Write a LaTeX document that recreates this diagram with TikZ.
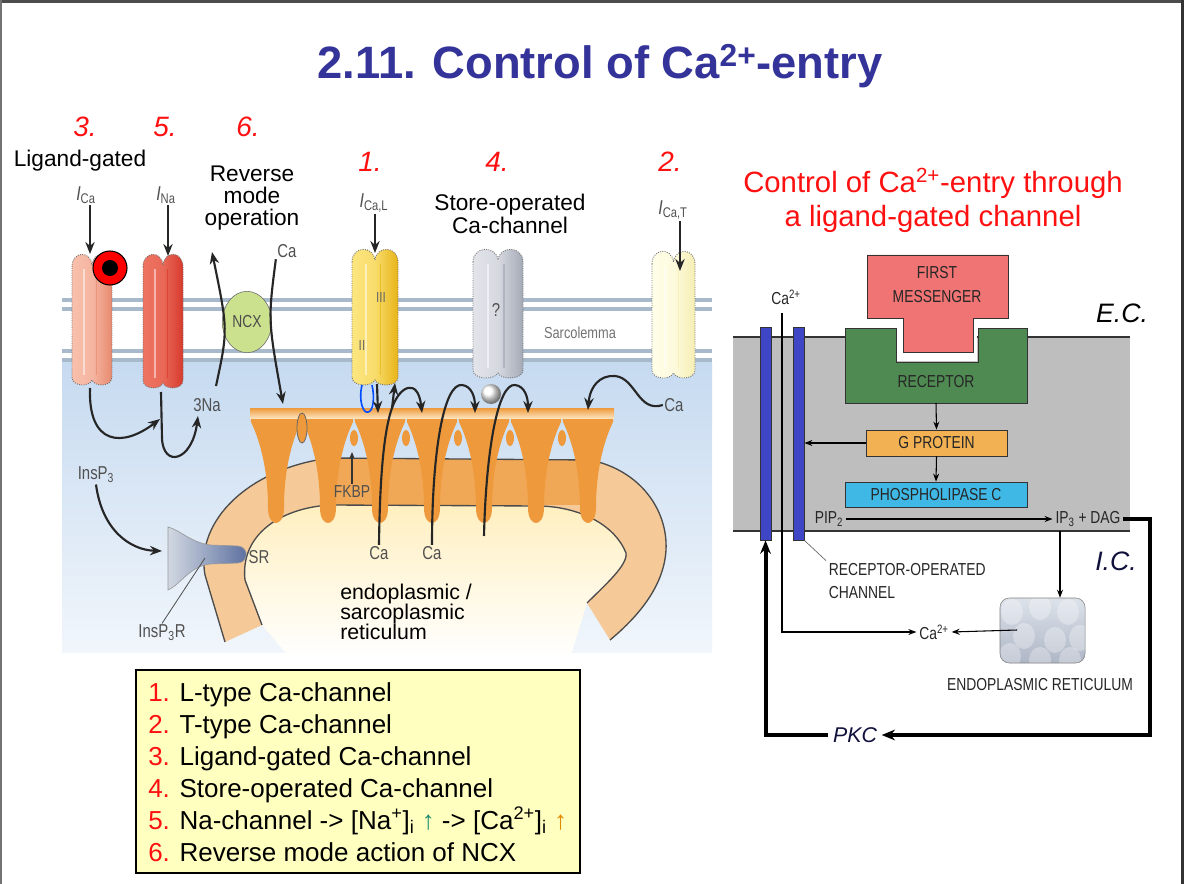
\documentclass[tikz,border=0pt]{standalone}
\usepackage{fontspec}
\setmainfont{Liberation Sans}
\newfontfamily\narrow[FakeStretch=0.8]{Liberation Sans}
\usetikzlibrary{arrows.meta,shapes.geometric}
\definecolor{titleblue}{HTML}{333399}
\definecolor{myred}{HTML}{FF1010}
\definecolor{memline}{HTML}{A9B9CC}
\definecolor{cytoblue}{HTML}{C6DAF0}
\definecolor{srtan}{HTML}{F5CA98}
\definecolor{srin}{HTML}{FFEFC0}
\definecolor{ryr}{HTML}{EE9A3C}
\definecolor{ryrlight}{HTML}{FCE2BA}
\definecolor{ryrmid}{HTML}{F0A856}
\definecolor{ncxgreen}{HTML}{CBE18E}
\definecolor{chanthreeL}{HTML}{F8C0AC}
\definecolor{chanthreeD}{HTML}{E88A70}
\definecolor{chanfiveL}{HTML}{EE7462}
\definecolor{chanfiveD}{HTML}{D63A2C}
\definecolor{chanoneL}{HTML}{FCE680}
\definecolor{chanoneD}{HTML}{E8B418}
\definecolor{chanfourL}{HTML}{E2E4EA}
\definecolor{chanfourD}{HTML}{A4AAB6}
\definecolor{chantwoL}{HTML}{FFFEE8}
\definecolor{chantwoD}{HTML}{F6EEB4}
\definecolor{legendbg}{HTML}{FFFFC0}
\definecolor{fmred}{HTML}{F07474}
\definecolor{recgreen}{HTML}{4F8A52}
\definecolor{gprot}{HTML}{F2B254}
\definecolor{plc}{HTML}{40B8E6}
\definecolor{rgray}{HTML}{BEBEBE}
\definecolor{chanblue}{HTML}{3E46C6}
\definecolor{labgray}{HTML}{505050}
\definecolor{insL}{HTML}{D2D8E2}
\definecolor{insR}{HTML}{5A6E9E}
\definecolor{erblue}{HTML}{AEB6C6}
\definecolor{erlight}{HTML}{DDE2EA}
\definecolor{pkcblue}{HTML}{10103C}
\definecolor{upgreen}{HTML}{1E8C6E}
\definecolor{uporange}{HTML}{E08A00}
\tikzset{
  smalllab/.style={font=\narrow\fontsize{14}{15}\selectfont, text=labgray, inner sep=1pt},
  ilab/.style={font=\narrow\fontsize{15}{16}\selectfont, text=labgray, inner sep=1pt},
  rlab/.style={font=\narrow\fontsize{13}{14}\selectfont, text=black!85, inner sep=2pt},
  rednum/.style={font=\fontsize{21}{24}\selectfont\itshape, text=myred},
  biglab/.style={font=\fontsize{17}{16.8}\selectfont, align=center, inner sep=1pt},
  blackarr/.style={draw=black!85, line width=1.6pt, -{Stealth[length=9pt,width=7pt]}},
  tarr/.style={draw=black, line width=0.8pt, -{Stealth[length=6pt,width=4.5pt]}},
  thk/.style={draw=black, line width=3pt},
  srline/.style={draw=black!70, line width=1pt},
}
\newcommand\drawchan[6]{%
\begin{scope}[shift={(#1,#2)}]
\shade[left color=#5, right color=#6, middle color=#5!80!#6, draw=black!55, densely dotted, line width=0.7pt]
 (0,14) .. controls (0,-2) and ({0.46*#3},-3) .. ({0.5*#3},12)
 .. controls ({0.54*#3},-3) and (#3,-2) .. (#3,14)
 -- (#3,{#4-8}) .. controls (#3,{#4+2}) and ({0.56*#3},{#4+2}) .. ({0.5*#3},{#4-5})
 .. controls ({0.44*#3},{#4+2}) and (0,{#4+2}) .. (0,{#4-8}) -- cycle;
\draw[#5!40!white, line width=1.5pt, opacity=0.8] ({0.3*#3},16) -- ({0.3*#3},{#4-10});
\draw[#6, line width=1pt, opacity=0.7] ({0.62*#3},16) -- ({0.62*#3},{#4-10});
\end{scope}}
\begin{document}
\begin{tikzpicture}[x=0.75pt,y=-0.75pt]
\useasboundingbox (0,0) rectangle (1184,884);
\fill[white] (0,0) rectangle (1184,884);
% slide frame
\draw[black!70, line width=2.2pt] (0,1.5) -- (1184,1.5);
\draw[black!55, line width=1.5pt] (1,0) -- (1,884);
\draw[black!80, line width=2.2pt] (1182.5,0) -- (1182.5,884);

% title
\node[font=\fontsize{34}{40}\selectfont\bfseries, text=titleblue] (title) at (600,66) {2.11. Control of Ca\textsuperscript{2+}-entry};

% ================= LEFT DIAGRAM =================
\shade[top color=cytoblue, bottom color=cytoblue!25!white] (62,362) rectangle (712,652);
\foreach \yy in {300,309,351,360} \draw[memline, line width=3pt] (62,\yy) -- (712,\yy);

% SR inner region
\shade[top color=srin, bottom color=white]
 (587,603) .. controls (605,585) and (628,565) .. (626,553) .. controls (615,525) and (580,507) .. (540,506)
 -- (330,505) .. controls (280,508) and (240,535) .. (245,580) -- (262,625) -- (290,658) -- (570,658) -- cycle;
% SR band
\fill[srtan]
 (225,642) -- (205,575) .. controls (195,520) and (250,468) .. (330,458) -- (590,460)
 .. controls (640,470) and (668,510) .. (666,550) .. controls (664,585) and (640,615) .. (610,640)
 -- (587,603) .. controls (605,585) and (628,565) .. (626,553) .. controls (615,525) and (580,507) .. (540,506)
 -- (330,505) .. controls (280,508) and (240,535) .. (245,580) -- (262,625) -- cycle;
\fill[ryrmid] (330,459) rectangle (592,505);
\draw[srline] (225,642) -- (205,575) .. controls (195,520) and (250,468) .. (330,458) -- (590,460)
 .. controls (640,470) and (668,510) .. (666,550) .. controls (664,585) and (640,615) .. (610,640);
\draw[srline] (587,603) .. controls (605,585) and (628,565) .. (626,553) .. controls (615,525) and (580,507) .. (540,506)
 -- (330,505) .. controls (280,508) and (240,535) .. (245,580) -- (262,625);

% RyR teeth
\foreach \cx in {276,328,380,432,484,536,588} {
\shade[left color=ryr, middle color=ryrlight, right color=ryr]
 ({\cx-26},410) -- ({\cx+26},410) -- ({\cx+25},422) .. controls ({\cx+14},445) and ({\cx+8},475) .. ({\cx+8},508)
 .. controls ({\cx+8},528) and ({\cx-8},528) .. ({\cx-8},508) .. controls ({\cx-8},475) and ({\cx-14},445) .. ({\cx-25},422) -- cycle;
}
\shade[top color=ryr, bottom color=ryrlight] (250,408) rectangle (614,418);
\foreach \kx in {354,406,458,510,562} \fill[ryr] (\kx,438) ellipse (4 and 8);
\filldraw[fill=ryr, draw=black!60, line width=0.6pt] (302,428) ellipse (5 and 15);

% FKBP
\node[smalllab, font=\narrow\fontsize{13}{14}\selectfont] (fkbp) at (352,492) {FKBP};
\coordinate (fkbptop) at (352,452);
\draw[draw=black!80, line width=1pt, -{Stealth[length=5pt,width=4pt]}] (fkbp.north) -- (fkbptop);

% channels
\drawchan{72}{253}{40}{132}{chanthreeL}{chanthreeD}
\drawchan{143}{253}{40}{135}{chanfiveL}{chanfiveD}
\drawchan{352}{248}{46}{137}{chanoneL}{chanoneD}
\drawchan{473}{248}{50}{130}{chanfourL}{chanfourD}
\drawchan{652}{250}{43}{128}{chantwoL}{chantwoD}

% ligand
\filldraw[fill=red, draw=black, line width=0.8pt] (110,268) circle (17);
\fill[black] (110,268) circle (8);

% L-type details
\node[smalllab, text=black!60, font=\narrow\fontsize{11}{12}\selectfont] (romIII) at (381,297) {III};
\node[smalllab, text=black!60, font=\narrow\fontsize{11}{12}\selectfont] (romII) at (362,345) {II};
\draw[blue!70!cyan, line width=1.2pt] (362,385) .. controls (358,402) and (364,414) .. (368,412) .. controls (373,412) and (375,398) .. (372,385);
\node[smalllab] (qm) at (496,310) {?};
\shade[ball color=white] (491,394) circle (10);
\node[smalllab, text=black!55, font=\narrow\fontsize{12}{13}\selectfont] (sarco) at (580,333) {Sarcolemma};

% NCX
\node[ellipse, draw=black!60, fill=ncxgreen, minimum width=37pt, minimum height=46pt, inner sep=0, font=\narrow\fontsize{13}{14}\selectfont, text=black!70] (ncx) at (247,322) {NCX};
\node[smalllab] (ncxca) at (287,251) {Ca};
\node[smalllab] (na3) at (207,405) {3Na};
\coordinate (ncxout) at (212,252);
\coordinate (ncxoutb) at (216,386);
\draw[blackarr] (ncxoutb) .. controls (228,330) .. (ncxout);
\coordinate (ncxin) at (283,404);
\draw[blackarr] (ncxca.south west) .. controls (268,320) .. (ncxin);

% labels above channels
\node[ilab] (ica) at (86,195) {{\itshape I}\textsubscript{Ca}};
\coordinate (c3top) at (90,254);
\draw[blackarr] (ica.south -| c3top) -- (c3top);
\node[ilab] (ina) at (166,195) {{\itshape I}\textsubscript{Na}};
\coordinate (c5top) at (168,256);
\draw[blackarr] (ina.south -| c5top) -- (c5top);
\node[ilab] (ical) at (374,203) {{\itshape I}\textsubscript{Ca,L}};
\coordinate (c1top) at (375,253);
\draw[blackarr] (ical.south -| c1top) -- (c1top);
\node[ilab] (icat) at (673,210) {{\itshape I}\textsubscript{Ca,T}};
\coordinate (c2top) at (680,271);
\draw[blackarr] (icat.south -| c2top) -- (c2top);

% arrows below Na / Ca ligand channels
\coordinate (c3bot) at (90,388);
\coordinate (c3end) at (160,419);
\draw[blackarr] (c3bot) .. controls (88,445) and (122,448) .. (c3end);
\coordinate (c5bot) at (161,392);
\coordinate (c5end) at (198,416);
\draw[blackarr] (c5bot) -- (162,438) .. controls (163,468) and (192,462) .. (c5end);

% T-type wavy arrow
\node[smalllab] (tca) at (674,405) {Ca};
\coordinate (tend) at (588,410);
\draw[blackarr] (tca.west) .. controls (638,413) and (636,378) .. (615,376) .. controls (600,375) and (590,386) .. (tend);

% L-type in
\coordinate (c1bot) at (377,384);
\coordinate (c1in) at (378,413);
\draw[blackarr] (c1bot) -- (c1in);

% Ca release curves
\node[smalllab] (caA) at (379,553) {Ca};
\node[smalllab] (caB) at (432,553) {Ca};
\coordinate (splitA) at (392,408);
\coordinate (upA) at (395,383);
\coordinate (endA) at (422,413);
\draw[draw=black!85, line width=1.6pt] (caA.north) .. controls (380,460) and (386,425) .. (splitA);
\draw[blackarr] (splitA) .. controls (400,385) and (418,378) .. (endA);
\draw[blackarr] (splitA) -- (upA);
\coordinate (endB) at (475,413);
\draw[blackarr] (caB.north) .. controls (432,450) and (444,383) .. (462,385) .. controls (472,386) and (475,398) .. (endB);
\coordinate (startC) at (484,536);
\coordinate (endC) at (528,413);
\draw[blackarr] (startC) .. controls (486,450) and (498,383) .. (515,385) .. controls (525,386) and (528,398) .. (endC);

% InsP3 receptor
\shade[left color=insL, right color=insR, draw=black!40, line width=0.5pt]
 (168,527) .. controls (180,530) and (190,542) .. (210,545) -- (238,546) .. controls (249,547) and (249,562) .. (238,563)
 -- (210,564) .. controls (190,566) and (180,585) .. (168,590) -- cycle;
\node[smalllab] (insp3) at (96,475) {InsP\textsubscript{3}};
\coordinate (insp3r) at (162,551);
\draw[blackarr] (insp3.south) .. controls (102,530) and (130,550) .. (insp3r);
\node[smalllab] (insp3rl) at (162,633) {InsP\textsubscript{3}R};
\coordinate (insin) at (205,558);
\draw[black!70, line width=0.6pt] (insp3rl.north) -- (insin);
\node[smalllab] (sr) at (259,557) {SR};

\node[font=\fontsize{16}{15}\selectfont, align=left, anchor=west, inner sep=0] (ersr) at (340,612) {endoplasmic /\\sarcoplasmic\\reticulum};

% top labels
\node[rednum] (n3) at (85,127) {3.};
\node[rednum] (n5) at (165,127) {5.};
\node[rednum] (n6) at (248,127) {6.};
\node[rednum] (n1) at (370,162) {1.};
\node[rednum] (n4) at (497,162) {4.};
\node[rednum] (n2) at (670,162) {2.};
\node[biglab] (lg) at (80,161) {Ligand-gated};
\node[biglab] (rmo) at (252,198) {Reverse\\mode\\operation};
\node[biglab] (soc) at (510,214) {Store-operated\\Ca-channel};

% legend
\filldraw[fill=legendbg, draw=black, line width=0.8pt] (136,670) rectangle (580,873);
\node[anchor=west, align=left, inner sep=0, font=\fontsize{19.5}{24}\selectfont] (legend) at (148,772)
{{\color{myred}1.} L-type Ca-channel\\
{\color{myred}2.} T-type Ca-channel\\
{\color{myred}3.} Ligand-gated Ca-channel\\
{\color{myred}4.} Store-operated Ca-channel\\
{\color{myred}5.} Na-channel -> [Na\textsuperscript{+}]\textsubscript{i} {\color{upgreen}↑} -> [Ca\textsuperscript{2+}]\textsubscript{i} {\color{uporange}↑}\\
{\color{myred}6.} Reverse mode action of NCX};

% ================= RIGHT DIAGRAM =================
\node[font=\fontsize{22}{25.5}\selectfont, text=myred, align=center] (rtitle) at (933,200) {Control of Ca\textsuperscript{2+}-entry through\\a ligand-gated channel};

\fill[rgray] (733,337) rectangle (1130,531);
\draw[black!80, line width=0.8pt] (733,337) -- (1130,337);
\draw[black!80, line width=0.8pt] (733,531) -- (1130,531);

\filldraw[fill=recgreen, draw=black!80, line width=0.6pt] (845,328) -- (896,328) -- (896,362) -- (978,362) -- (978,328) -- (1027,328) -- (1027,403) -- (845,403) -- cycle;
\fill[white] (896.6,336) rectangle (977.4,361.4);
\filldraw[fill=fmred, draw=black!80, line width=0.6pt] (867,255) -- (1008,255) -- (1008,318) -- (973,318) -- (973,352) -- (903,352) -- (903,318) -- (867,318) -- cycle;
\node[rlab, align=center, font=\narrow\fontsize{13}{18}\selectfont] (fm) at (937,285) {FIRST\\MESSENGER};
\node[rlab] (rec) at (936,382) {RECEPTOR};
\coordinate (recbot) at (936,403);

\node[draw=black!80, fill=gprot, line width=0.6pt, minimum width=105.75pt, minimum height=19.5pt, inner sep=0, font=\narrow\fontsize{13}{14}\selectfont, text=black!85] (gp) at (936.5,443) {G PROTEIN};
\node[draw=black!80, fill=plc, line width=0.6pt, minimum width=136.5pt, minimum height=18.75pt, inner sep=0, font=\narrow\fontsize{13}{14}\selectfont, text=black!85] (plcn) at (936,494.5) {PHOSPHOLIPASE C};
\draw[tarr] (recbot) -- (gp.north);
\draw[tarr] (gp.south) -- (plcn.north);

\node[draw=black!80, fill=chanblue, line width=0.6pt, minimum width=8.25pt, minimum height=159.75pt, inner sep=0] (bar1) at (765.5,433.5) {};
\node[draw=black!80, fill=chanblue, line width=0.6pt, minimum width=8.25pt, minimum height=159.75pt, inner sep=0] (bar2) at (798.5,433.5) {};
\draw[tarr] (gp.west) -- (gp.west -| bar2.east);

\node[rlab] (catl) at (786,297) {Ca\textsuperscript{2+}};
\coordinate (catop) at (782,313);
\node[rlab] (cab) at (934,632) {Ca\textsuperscript{2+}};
\draw[tarr] (catop) |- (cab.west);

\node[rlab] (pip) at (829,519) {PIP\textsubscript{2}};
\node[rlab] (ip3) at (1088,519) {IP\textsubscript{3} + DAG};
\draw[tarr] (pip.east) -- (ip3.west);

\node[draw=black!50, rounded corners=7pt, minimum width=63.75pt, minimum height=48.75pt, inner sep=0, top color=erlight, bottom color=erblue] (er) at (1042.5,630.5) {};
\begin{scope}
\clip[rounded corners=7pt] (1000.5,598.5) rectangle (1084.5,662.5);
\foreach \bx/\by in {1012/612,1040/607,1068/612,1024/636,1055/640,1080/638,1010/656,1040/660,1070/660}
  \fill[white, opacity=0.3] (\bx,\by) ellipse (11 and 13);
\end{scope}
\coordinate (ipd) at (1060,531);
\draw[tarr] (ipd) -- (ipd |- er.north);
\coordinate (erin) at (1017,630);
\draw[tarr] (erin) -- (cab.east);
\node[rlab] (erl) at (1040,685) {ENDOPLASMIC RETICULUM};

\node[rlab, align=left, anchor=west, font=\narrow\fontsize{13}{17}\selectfont] (rop) at (826,581) {RECEPTOR-OPERATED\\CHANNEL};
\draw[black!60, line width=0.5pt] (bar2.south east) -- (rop.north west);

\node[font=\fontsize{16}{18}\selectfont\itshape, text=pkcblue] (pkc) at (855,735) {PKC};
\draw[thk, -{Stealth[length=10pt,width=8pt]}] (ip3.east) -| (1150,735) -- (pkc.east);
\draw[thk, -{Stealth[length=10pt,width=8pt]}] (pkc.west) -| (bar1.south);

\node[font=\fontsize{20}{22}\selectfont\itshape] (ec) at (1122,313) {E.C.};
\node[font=\fontsize{20}{22}\selectfont\itshape, text=pkcblue] (ic) at (1116,561) {I.C.};
\end{tikzpicture}
\end{document}
